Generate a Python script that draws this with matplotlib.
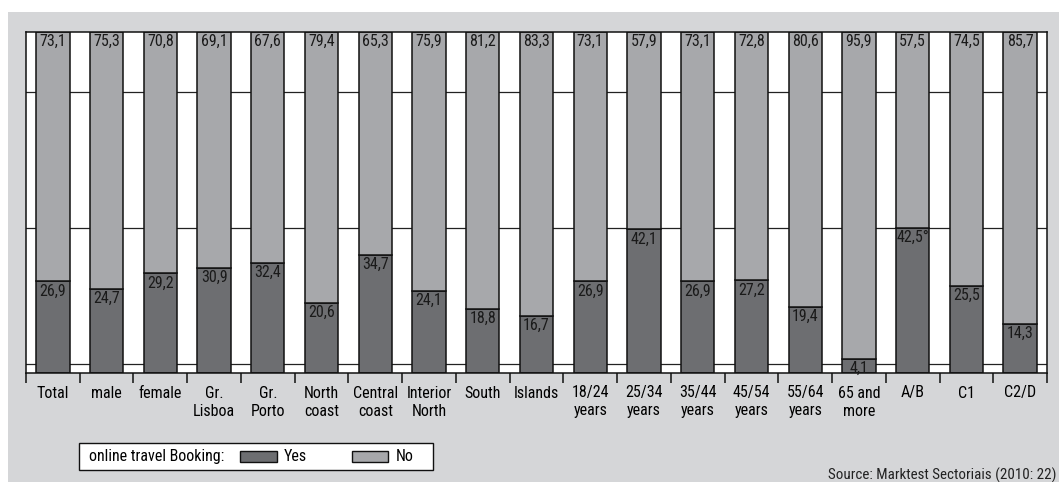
import numpy as np
import matplotlib
matplotlib.use('Agg')
import matplotlib.pyplot as plt
from matplotlib.patches import Rectangle

plt.rcParams['font.family'] = ['Roboto Condensed', 'Lato', 'DejaVu Sans']

# data
categories = ['Total', 'male', 'female', 'Gr.\nLisboa', 'Gr.\nPorto', 'North\ncoast',
              'Central\ncoast', 'Interior\nNorth', 'South', 'Islands', '18/24\nyears',
              '25/34\nyears', '35/44\nyears', '45/54\nyears', '55/64\nyears',
              '65 and\nmore', 'A/B', 'C1', 'C2/D']
yes = [26.9, 24.7, 29.2, 30.9, 32.4, 20.6, 34.7, 24.1, 18.8, 16.7, 26.9, 42.1,
       26.9, 27.2, 19.4, 4.1, 42.5, 25.5, 14.3]
no = [73.1, 75.3, 70.8, 69.1, 67.6, 79.4, 65.3, 75.9, 81.2, 83.3, 73.1, 57.9,
      73.1, 72.8, 80.6, 95.9, 57.5, 74.5, 85.7]
yes_labels = ['26,9', '24,7', '29,2', '30,9', '32,4', '20,6', '34,7', '24,1', '18,8',
              '16,7', '26,9', '42,1', '26,9', '27,2', '19,4', '4,1', '42,5°', '25,5', '14,3']
no_labels = ['73,1', '75,3', '70,8', '69,1', '67,6', '79,4', '65,3', '75,9', '81,2',
             '83,3', '73,1', '57,9', '73,1', '72,8', '80,6', '95,9', '57,5', '74,5', '85,7']
grid_vals = [2.6, 42.5, 82.4]

W, H = 1059, 482
c_yes = '#6d6e71'
c_no = '#a7a8ab'
c_bg = '#d5d6d8'
fs = 11.5

fig = plt.figure(figsize=(W / 100, H / 100), dpi=100)

def fx(px):
    return px / W

def fy(py):
    return 1 - py / H

# gray background panel
fig.add_artist(Rectangle((fx(8), 0), 1 - fx(8), fy(12), transform=fig.transFigure,
                         facecolor=c_bg, edgecolor='none', zorder=0))

ax = fig.add_axes([fx(26), fy(373), fx(1047) - fx(26), fy(32) - fy(373)])
ax.set_facecolor('white')

x = np.arange(len(categories))
for g in grid_vals:
    ax.axhline(g, color='#222222', lw=0.9, zorder=1)

ax.bar(x, yes, width=0.62, color=c_yes, edgecolor='#111111', lw=1.1, zorder=2)
ax.bar(x, no, width=0.62, bottom=yes, color=c_no, edgecolor='#111111', lw=1.1, zorder=2)

for i in range(len(x)):
    ax.annotate(yes_labels[i], (x[i], yes[i]), xytext=(0, -1.5), textcoords='offset points',
                ha='center', va='top', fontsize=fs, color='#1a1a1a', zorder=3,
                annotation_clip=False)
    ax.annotate(no_labels[i], (x[i], 100), xytext=(0, -1.5), textcoords='offset points',
                ha='center', va='top', fontsize=fs, color='#1a1a1a', zorder=3)

ax.set_xlim(-0.5, len(x) - 0.5)
ax.set_ylim(0, 100)
ax.set_yticks([])
ax.set_xticks(x)
ax.set_xticklabels(categories, fontsize=fs, linespacing=1.25, va='top')
ax.tick_params(axis='x', which='major', length=0, pad=9)
ax.set_xticks(np.arange(len(x) + 1) - 0.5, minor=True)
ax.tick_params(axis='x', which='minor', length=7.5, width=1.1, color='#111111')
for s in ax.spines.values():
    s.set_linewidth(1.1)
    s.set_color('#111111')

# legend box
fig.add_artist(Rectangle((fx(79), fy(470)), fx(433) - fx(79), fy(443) - fy(470),
                         transform=fig.transFigure, facecolor='white',
                         edgecolor='#111111', lw=1.0))
fig.text(fx(89), fy(456.5), 'online travel Booking:', fontsize=fs, va='center', ha='left')
fig.add_artist(Rectangle((fx(240), fy(462)), fx(277) - fx(240), fy(451) - fy(462),
                         transform=fig.transFigure, facecolor=c_yes,
                         edgecolor='#111111', lw=1.0))
fig.text(fx(284), fy(456.5), 'Yes', fontsize=fs, va='center', ha='left')
fig.add_artist(Rectangle((fx(352), fy(462)), fx(388) - fx(352), fy(451) - fy(462),
                         transform=fig.transFigure, facecolor=c_no,
                         edgecolor='#111111', lw=1.0))
fig.text(fx(396), fy(456.5), 'No', fontsize=fs, va='center', ha='left')

fig.text(fx(1057), fy(475), 'Source: Marktest Sectoriais (2010: 22)', fontsize=10.8,
         va='center', ha='right', color='#222222')

fig.savefig('out.png', dpi=100)
